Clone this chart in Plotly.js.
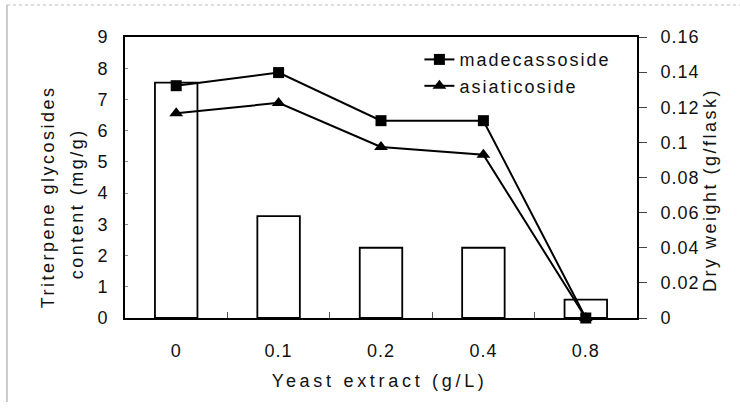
<!DOCTYPE html>
<html>
<head>
<meta charset="utf-8">
<script src="https://cdn.plot.ly/plotly-3.0.1.min.js"></script>
<style>
html,body{margin:0;padding:0;background:#fff;}
#chart{width:740px;height:413px;}
</style>
</head>
<body>
<div id="chart"></div>
<script>
// Data
const categories = ['0', '0.1', '0.2', '0.4', '0.8'];
const dryWeight = [0.134, 0.058, 0.040, 0.040, 0.0105];       // g/flask (bars, right axis)
const madecassoside = [7.44, 7.86, 6.32, 6.32, 0];             // mg/g (left axis)
const asiaticoside = [6.56, 6.89, 5.48, 5.23, 0];              // mg/g (left axis)
const seriesNames = ['madecassoside', 'asiaticoside'];
const xTitle = 'Yeast extract (g/L)';
const yTitleLine1 = 'Triterpene glycosides';
const yTitleLine2 = 'content (mg/g)';
const y2Title = 'Dry weight (g/flask)';

const FONT = 'Liberation Sans, Arial, sans-serif';
const INK = '#000';

const traces = [
  {
    type: 'bar', x: categories, y: dryWeight, yaxis: 'y',
    marker: {color: '#ffffff', line: {color: INK, width: 1.8}},
    showlegend: false, hoverinfo: 'skip'
  },
  {
    type: 'scatter', mode: 'lines+markers', name: seriesNames[1],
    x: categories, y: asiaticoside, yaxis: 'y2', legendrank: 2,
    line: {color: INK, width: 2},
    marker: {symbol: 'triangle-up', size: 12, color: INK},
    cliponaxis: false
  },
  {
    type: 'scatter', mode: 'lines+markers', name: seriesNames[0],
    x: categories, y: madecassoside, yaxis: 'y2', legendrank: 1,
    line: {color: INK, width: 2},
    marker: {symbol: 'square', size: 11, color: INK},
    cliponaxis: false
  }
];

const layout = {
  width: 740, height: 413,
  margin: {l: 125, r: 103, t: 37, b: 95},
  paper_bgcolor: '#fff', plot_bgcolor: '#fff',
  font: {family: FONT, size: 18, color: '#111'},
  bargap: 0.585,
  showlegend: true,
  legend: {
    x: 0.575, y: 0.985, xanchor: 'left', yanchor: 'top',
    bgcolor: 'rgba(255,255,255,0)', borderwidth: 0,
    font: {family: FONT, size: 18, color: '#111'},
    tracegroupgap: 0
  },
  xaxis: {
    type: 'category', range: [-0.5, 4.5],
    showline: true, linecolor: INK, linewidth: 2, mirror: true,
    ticks: 'inside', tickson: 'boundaries', ticklen: 6, tickwidth: 1, tickcolor: '#555',
    showgrid: false, zeroline: false,
    ticklabelstandoff: 15,
    tickfont: {family: FONT, size: 18, color: '#111'}
  },
  yaxis: {
    side: 'right', range: [0, 0.16], dtick: 0.02, tickformat: '.2~f',
    showline: true, linecolor: INK, linewidth: 2,
    ticks: 'outside', ticklen: 8, tickwidth: 1, tickcolor: '#444',
    showgrid: false, zeroline: false,
    ticklabelstandoff: 10,
    tickfont: {family: FONT, size: 18, color: '#111'}
  },
  yaxis2: {
    overlaying: 'y', side: 'left', range: [0, 9], dtick: 1,
    showline: true, linecolor: INK, linewidth: 2,
    ticks: 'inside', ticklen: 3, tickwidth: 1, tickcolor: '#888',
    showgrid: false, zeroline: false,
    ticklabelstandoff: 11,
    tickfont: {family: FONT, size: 18, color: '#111'}
  },
  annotations: [
    {text: xTitle, xref: 'paper', yref: 'paper', x: 0.498, y: -0.224,
     xanchor: 'center', yanchor: 'middle', showarrow: false,
     font: {family: FONT, size: 18, color: '#111'}},
    {text: yTitleLine1, xref: 'paper', yref: 'paper', x: -0.150, y: 0.431, textangle: -90,
     xanchor: 'center', yanchor: 'middle', showarrow: false,
     font: {family: FONT, size: 18, color: '#111'}},
    {text: yTitleLine2, xref: 'paper', yref: 'paper', x: -0.094, y: 0.406, textangle: -90,
     xanchor: 'center', yanchor: 'middle', showarrow: false,
     font: {family: FONT, size: 18, color: '#111'}},
    {text: y2Title, xref: 'paper', yref: 'paper', x: 1.143, y: 0.456, textangle: -90,
     xanchor: 'center', yanchor: 'middle', showarrow: false,
     font: {family: FONT, size: 18, color: '#111'}}
  ],
  shapes: [
    {type: 'line', xref: 'paper', yref: 'paper', x0: -0.2305, x1: -0.2305, y0: 1.114, y1: -0.299,
     line: {color: '#999', width: 1}},
    {type: 'line', xref: 'paper', yref: 'paper', x0: -0.2305, x1: 1.201, y0: 1.114, y1: 1.114,
     line: {color: '#bbb', width: 1, dash: 'dot'}}
  ]
};

Plotly.newPlot('chart', traces, layout, {displayModeBar: false, staticPlot: true}).then(function (gd) {
  const sp = function (sel, v) {
    gd.querySelectorAll(sel).forEach(function (t) { t.style.letterSpacing = v; });
  };
  sp('.xtick text, .ytick text, .y2tick text', '1px');
  sp('.legendtext', '2px');
  // letter-spacing widens the legend text beyond the box Plotly measured: drop the legend clip
  gd.querySelectorAll('.legend [clip-path], .legend[clip-path]').forEach(function (el) {
    el.removeAttribute('clip-path');
  });
  const ann = gd.querySelectorAll('.annotation-text');
  if (ann[0]) ann[0].style.letterSpacing = '3.7px';
  for (let i = 1; i < ann.length; i++) ann[i].style.letterSpacing = '2.5px';
});
</script>
</body>
</html>
